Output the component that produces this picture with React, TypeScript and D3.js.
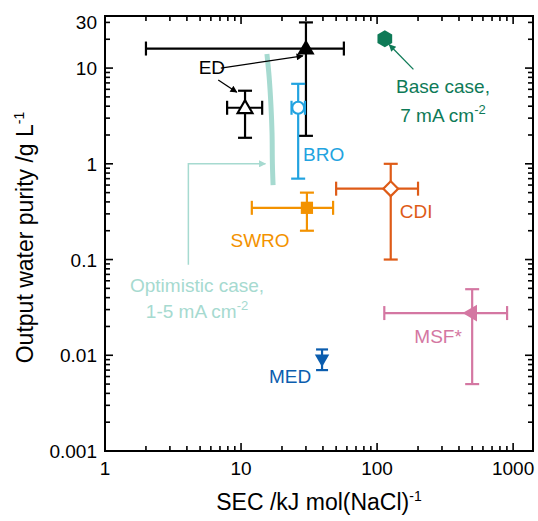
import * as d3 from 'd3'

// technologies: SEC (kJ/mol NaCl) vs output water purity (g/L)
const names = ['ED', 'ED lab', 'BRO', 'SWRO', 'CDI', 'MED', 'MSF*', 'Base case']
const secMid = [30, 10.7, 26.3, 30.5, 126, 39.4, 500, 114]
const secLow = [2, 7.9, 23.5, 12, 50, null, 113, null]
const secHigh = [57, 14.3, 29.5, 47.5, 200, null, 903, null]
const purityMid = [16, 3.85, 3.85, 0.347, 0.55, 0.0092, 0.0276, 20.2]
const purityLow = [1.96, 1.87, 0.7, 0.2, 0.1, 0.007, 0.005, null]
const purityHigh = [30, 5.8, 6.85, 0.5, 1.0, 0.0115, 0.049, null]
const colors = ['#000000', '#000000', '#22A3E0', '#F39200', '#DE5B17', '#0B5DAE', '#D477A2', '#0E7A57']
const shapes = ['triUp', 'triUpOpen', 'circleOpen', 'square', 'diamondOpen', 'triDown', 'triLeft', 'hexagon']

// optimistic case (1-5 mA cm-2) curve
const optSec = [15.5, 16.1, 16.6, 16.9, 17.0, 17.2]
const optPurity = [14, 8, 4, 2.1, 1, 0.6]

const xTickLabels = ['1', '10', '100', '1000']
const yTickLabels = ['0.001', '0.01', '0.1', '1', '10', '30']

const W = 538
const H = 521
const m = { left: 105, top: 16, right: 5, bottom: 70 }

const x = d3.scaleLog().domain([1, 1400]).range([m.left, W - m.right])
const y = d3.scaleLog().domain([0.001, 35]).range([H - m.bottom, m.top])

const font = "'Liberation Sans', Arial, sans-serif"

const logTicks = (lo: number, hi: number) => {
  const out: { v: number; major: boolean }[] = []
  for (let k = Math.floor(Math.log10(lo)); k <= Math.ceil(Math.log10(hi)); k++) {
    for (let i = 1; i < 10; i++) {
      const v = i * Math.pow(10, k)
      if (v >= lo * 0.999 && v <= hi * 1.001) out.push({ v, major: i === 1 })
    }
  }
  return out
}

const marker = (shape: string, color: string) => {
  const sw = 2.2
  switch (shape) {
    case 'triUp':
      return <path d={d3.symbol(d3.symbolTriangle, 130)()!} fill={color} transform="translate(0,1)" />
    case 'triUpOpen':
      return <path d={d3.symbol(d3.symbolTriangle, 95)()!} fill="#fff" stroke={color} strokeWidth={sw} transform="translate(0,1)" />
    case 'circleOpen':
      return <circle r={6} fill="#fff" stroke={color} strokeWidth={sw} />
    case 'square':
      return <path d={d3.symbol(d3.symbolSquare, 150)()!} fill={color} />
    case 'diamondOpen':
      return <path d={d3.symbol(d3.symbolSquare, 110)()!} fill="#fff" stroke={color} strokeWidth={sw} transform="rotate(45)" />
    case 'triDown':
      return <path d={d3.symbol(d3.symbolTriangle, 90)()!} fill={color} transform="rotate(180)" />
    case 'triLeft':
      return <path d={d3.symbol(d3.symbolTriangle, 120)()!} fill={color} transform="rotate(-90)" />
    case 'hexagon': {
      const r = 8.5
      const pts = d3.range(6).map(i => {
        const a = (Math.PI / 3) * i - Math.PI / 2
        return [r * Math.cos(a), r * Math.sin(a)] as [number, number]
      })
      return <path d={d3.line()(pts)! + 'Z'} fill={color} />
    }
  }
  return null
}

export default function App() {
  const x0 = m.left
  const x1 = W - m.right
  const y0 = m.top
  const y1 = H - m.bottom
  const xt = logTicks(1, 1400)
  const yt = logTicks(0.001, 35)
  const optLine = d3
    .line<number>()
    .x((_, i) => x(optSec[i]))
    .y(d => y(d))
    .curve(d3.curveCatmullRom)(optPurity)

  return (
    <svg width={W} height={H} style={{ position: 'absolute', left: 0, top: 0, background: '#fff' }} fontFamily={font}>
      <defs>
        {[
          ['arrBlack', '#000'],
          ['arrGreen', '#0E7A57'],
          ['arrTeal', '#A6DAD0'],
        ].map(([id, c]) => (
          <marker key={id} id={id} viewBox="0 0 10 10" refX="9" refY="5" markerWidth="9" markerHeight="7" markerUnits="userSpaceOnUse" orient="auto">
            <path d="M0,0 L10,5 L0,10 Z" fill={c} />
          </marker>
        ))}
      </defs>

      {/* ticks, inward on all four sides */}
      <g stroke="#000" strokeWidth={1.6}>
        {xt.map(({ v, major }, i) => (
          <g key={'x' + i}>
            <line x1={x(v)} x2={x(v)} y1={y1} y2={y1 - (major ? 8 : 5)} />
            <line x1={x(v)} x2={x(v)} y1={y0} y2={y0 + (major ? 8 : 5)} />
          </g>
        ))}
        {yt.map(({ v, major }, i) => (
          <g key={'y' + i}>
            <line x1={x0} x2={x0 + (major ? 8 : 5)} y1={y(v)} y2={y(v)} />
            <line x1={x1} x2={x1 - (major ? 8 : 5)} y1={y(v)} y2={y(v)} />
          </g>
        ))}
      </g>
      <rect x={x0} y={y0} width={x1 - x0} height={y1 - y0} fill="none" stroke="#000" strokeWidth={2} />

      {xTickLabels.map(t => (
        <text key={t} x={x(+t)} y={y1 + 24} fontSize={19} textAnchor="middle">
          {t}
        </text>
      ))}
      {yTickLabels.map(t => (
        <text key={t} x={x0 - 8} y={y(+t) + 7} fontSize={19} textAnchor="end">
          {t}
        </text>
      ))}

      <text x={(x0 + x1) / 2} y={510} fontSize={23} textAnchor="middle">
        SEC /kJ mol(NaCl)<tspan dy={-9} fontSize={14}>-1</tspan>
      </text>
      <text transform={`translate(33,${(y0 + y1) / 2 + 4}) rotate(-90)`} fontSize={23} textAnchor="middle">
        Output water purity /g L<tspan dy={-9} fontSize={14}>-1</tspan>
      </text>

      {/* optimistic case */}
      <path d={optLine!} fill="none" stroke="#A6DAD0" strokeWidth={5} />
      <polyline
        points={`${x(4.1)},${y(0.088)} ${x(4.1)},${y(1)} ${x(15.1)},${y(1)}`}
        fill="none"
        stroke="#A6DAD0"
        strokeWidth={1.5}
        markerEnd="url(#arrTeal)"
      />
      <text x={x(4.75)} y={y(0.046)} fontSize={19} fill="#A6DAD0" textAnchor="middle">
        Optimistic case,
      </text>
      <text x={x(4.75)} y={y(0.0246)} fontSize={19} fill="#A6DAD0" textAnchor="middle">
        1-5 mA cm<tspan dy={-8} fontSize={13}>-2</tspan>
      </text>

      {/* error bars and markers */}
      {names.map((n, i) => {
        const cx = x(secMid[i])
        const cy = y(purityMid[i])
        const c = colors[i]
        const cap = i === 5 ? 6 : 7
        return (
          <g key={n} stroke={c} strokeWidth={2.2}>
            {secLow[i] != null && (
              <g>
                <line x1={x(secLow[i]!)} x2={x(secHigh[i]!)} y1={cy} y2={cy} />
                <line x1={x(secLow[i]!)} x2={x(secLow[i]!)} y1={cy - cap} y2={cy + cap} />
                <line x1={x(secHigh[i]!)} x2={x(secHigh[i]!)} y1={cy - cap} y2={cy + cap} />
              </g>
            )}
            {purityLow[i] != null && (
              <g>
                <line x1={cx} x2={cx} y1={y(purityLow[i]!)} y2={y(purityHigh[i]!)} />
                <line x1={cx - cap} x2={cx + cap} y1={y(purityLow[i]!)} y2={y(purityLow[i]!)} />
                <line x1={cx - cap} x2={cx + cap} y1={y(purityHigh[i]!)} y2={y(purityHigh[i]!)} />
              </g>
            )}
            <g transform={`translate(${cx},${cy})`} stroke="none">
              {marker(shapes[i], c)}
            </g>
          </g>
        )
      })}

      {/* labels and arrows */}
      <text x={x(6.1)} y={y(8.7)} fontSize={19} textAnchor="middle">
        ED
      </text>
      <line x1={x(7.1)} y1={y(10)} x2={x(28.5)} y2={y(13.4)} stroke="#000" strokeWidth={1.3} markerEnd="url(#arrBlack)" />
      <line x1={x(6.8)} y1={y(7.5)} x2={x(9.3)} y2={y(5.6)} stroke="#000" strokeWidth={1.3} markerEnd="url(#arrBlack)" />

      <text x={x(28.6)} y={y(1.07)} fontSize={19} fill="#22A3E0">
        BRO
      </text>
      <text x={x(13.8)} y={y(0.136)} fontSize={19} fill="#F39200" textAnchor="middle">
        SWRO
      </text>
      <text x={x(147)} y={y(0.273)} fontSize={19} fill="#DE5B17">
        CDI
      </text>
      <text x={x(22.9)} y={y(0.0051)} fontSize={19} fill="#0B5DAE" textAnchor="middle">
        MED
      </text>
      <text x={x(281)} y={y(0.0133)} fontSize={19} fill="#D477A2" textAnchor="middle">
        MSF*
      </text>

      <line x1={x(185)} y1={y(9.7)} x2={x(123)} y2={y(17.5)} stroke="#0E7A57" strokeWidth={1.3} markerEnd="url(#arrGreen)" />
      <text x={x(305)} y={y(5.5)} fontSize={19} fill="#0E7A57" textAnchor="middle">
        Base case,
      </text>
      <text x={x(305)} y={y(2.75)} fontSize={19} fill="#0E7A57" textAnchor="middle">
        7 mA cm<tspan dy={-8} fontSize={13}>-2</tspan>
      </text>
    </svg>
  )
}
